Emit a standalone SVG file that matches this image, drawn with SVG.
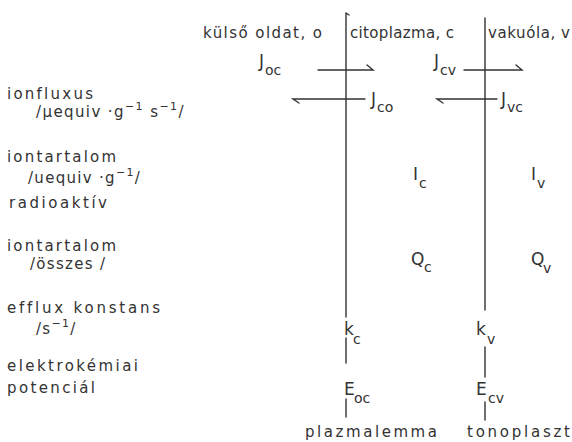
<svg xmlns="http://www.w3.org/2000/svg" width="572" height="442" viewBox="0 0 572 442">
<style>
text{font-family:"DejaVu Sans","Liberation Sans",sans-serif;fill:#333;font-variant-ligatures:none;font-feature-settings:"liga" 0;}
.h{font-size:15px;}
.l{font-size:15px;}
.s{font-size:17px;}
.b{font-size:14px;}
.sup{font-size:11px;}
.ln{stroke:#333;stroke-width:1.4;fill:none;stroke-linecap:round;}
</style>
<rect width="572" height="442" fill="#fff"/>
<g id="membranes">
<path class="ln" d="M346,13 V317 M346,13 L349,15 M346,338 V363 M346,399 V417"/>
<path class="ln" d="M485,18 V310 M485,347 V377 M485,402 V420"/>
</g>
<g id="headers">
<text class="h" x="203" y="38" textLength="119" lengthAdjust="spacing">külső oldat, o</text>
<text class="h" x="350" y="38" textLength="104" lengthAdjust="spacing">citoplazma, c</text>
<text class="h" x="488" y="38" textLength="82" lengthAdjust="spacing">vakuóla, v</text>
</g>
<g id="row-labels">
<text class="l" x="7" y="99" textLength="86" lengthAdjust="spacing">ionfluxus</text>
<text class="l" x="36" y="117" letter-spacing="1.4">/μequiv ·g<tspan class="sup" dy="-7">−1</tspan><tspan dy="7"> s</tspan><tspan class="sup" dy="-7">−1</tspan><tspan dy="7">/</tspan></text>
<text class="l" x="7" y="162" textLength="109" lengthAdjust="spacing">iontartalom</text>
<text class="l" x="28" y="183" letter-spacing="1.3">/uequiv ·g<tspan class="sup" dy="-7">−1</tspan><tspan dy="7">/</tspan></text>
<text class="l" x="9" y="208" textLength="98" lengthAdjust="spacing">radioaktív</text>
<text class="l" x="7" y="251" textLength="109" lengthAdjust="spacing">iontartalom</text>
<text class="l" x="30" y="269" letter-spacing="1.3">/összes /</text>
<text class="l" x="7" y="313" textLength="153" lengthAdjust="spacing">efflux konstans</text>
<text class="l" x="36" y="334" letter-spacing="1.3">/s<tspan class="sup" dy="-7">−1</tspan><tspan dy="7">/</tspan></text>
<text class="l" x="7" y="371" textLength="131" lengthAdjust="spacing">elektrokémiai</text>
<text class="l" x="7" y="393" textLength="88" lengthAdjust="spacing">potenciál</text>
</g>
<g id="connectors">
<path class="ln" d="M318,70 H373 L367,65"/>
<path class="ln" d="M464,70 H522 L516,65"/>
<path class="ln" d="M365,99 H293 L299,103"/>
<path class="ln" d="M497,99 H437 L443,103"/>
</g>
<g id="fluxes">
<text class="s" x="259" y="67">J</text><text class="b" x="265" y="75">oc</text>
<text class="s" x="434" y="67">J</text><text class="b" x="440" y="75">cv</text>
<text class="s" x="371" y="105">J</text><text class="b" x="377" y="112">co</text>
<text class="s" x="501" y="105">J</text><text class="b" x="507" y="112">vc</text>
</g>
<g id="contents">
<text class="s" x="413" y="180">I</text><text class="b" x="419" y="188">c</text>
<text class="s" x="531" y="180">I</text><text class="b" x="537" y="188">v</text>
<text class="s" x="411" y="265">Q</text><text class="b" x="424" y="272">c</text>
<text class="s" x="531" y="265">Q</text><text class="b" x="543" y="273">v</text>
</g>
<g id="constants">
<text class="s" x="344" y="335">k</text><text class="b" x="353" y="344">c</text>
<text class="s" x="476" y="335">k</text><text class="b" x="487" y="344">v</text>
<text class="s" x="344" y="395">E</text><text class="b" x="354" y="403">oc</text>
<text class="s" x="476" y="395">E</text><text class="b" x="488" y="403">cv</text>
</g>
<g id="footers">
<text class="h" x="305" y="437" textLength="132" lengthAdjust="spacing">plazmalemma</text>
<text class="h" x="467" y="437" textLength="103" lengthAdjust="spacing">tonoplaszt</text>
</g>
</svg>
